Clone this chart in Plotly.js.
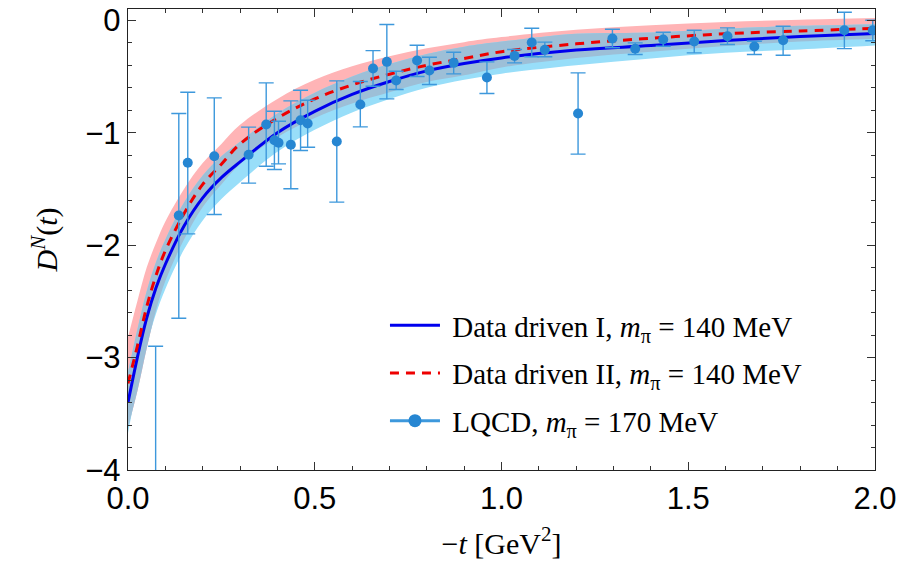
<!DOCTYPE html>
<html>
<head>
<meta charset="utf-8">
<script src="https://cdn.plot.ly/plotly-3.0.1.min.js"></script>
<style>html,body{margin:0;padding:0;background:#fff;}#chart{width:909px;height:572px;}</style>
</head>
<body>
<div id="chart"></div>
<script>
// Curve sample positions (-t in GeV^2)
const tGrid = [0, 0.025, 0.05, 0.075, 0.1, 0.15, 0.2, 0.25, 0.3, 0.4, 0.5, 0.6, 0.7, 0.8, 0.9, 1.0, 1.2, 1.4, 1.6, 1.8, 2.0];

// Data driven I (blue solid) central curve and band
const ddI    = [-3.40, -3.00, -2.65, -2.38, -2.17, -1.83, -1.58, -1.40, -1.26, -1.00, -0.81, -0.66, -0.545, -0.45, -0.385, -0.335, -0.265, -0.225, -0.18, -0.145, -0.118];
const ddIUp  = [-3.13, -2.75, -2.41, -2.15, -1.95, -1.62, -1.38, -1.21, -1.08, -0.83, -0.645, -0.50, -0.39, -0.30, -0.235, -0.19, -0.12, -0.11, -0.075, -0.05, -0.035];
const ddILo  = [-3.67, -3.25, -2.89, -2.61, -2.39, -2.04, -1.78, -1.59, -1.44, -1.17, -0.975, -0.82, -0.70, -0.60, -0.53, -0.475, -0.40, -0.34, -0.29, -0.26, -0.225];

// Data driven II (red dashed) central curve and band
const ddII   = [-3.23, -2.90, -2.55, -2.27, -2.05, -1.72, -1.46, -1.28, -1.10, -0.87, -0.70, -0.575, -0.48, -0.40, -0.34, -0.28, -0.21, -0.16, -0.12, -0.095, -0.073];
const ddIIUp = [-2.82, -2.50, -2.20, -1.98, -1.79, -1.50, -1.27, -1.10, -0.93, -0.70, -0.53, -0.41, -0.32, -0.25, -0.195, -0.15, -0.085, -0.045, -0.015, 0.005, 0.02];
const ddIILo = [-3.62, -3.30, -2.92, -2.58, -2.32, -1.95, -1.66, -1.46, -1.28, -1.04, -0.87, -0.74, -0.64, -0.55, -0.49, -0.42, -0.335, -0.28, -0.23, -0.19, -0.165];

// LQCD points (m_pi = 170 MeV) with error bar ends
const lqcdX    = [0.074, 0.136, 0.160, 0.231, 0.323, 0.370, 0.392, 0.403, 0.436, 0.462, 0.481, 0.559, 0.622, 0.656, 0.693, 0.718, 0.774, 0.807, 0.872, 0.961, 1.035, 1.081, 1.116, 1.205, 1.297, 1.358, 1.433, 1.516, 1.605, 1.677, 1.754, 1.918, 1.994];
const lqcdY    = [-4.50, -1.736, -1.268, -1.209, -1.197, -0.927, -1.067, -1.090, -1.108, -0.889, -0.918, -1.078, -0.749, -0.429, -0.370, -0.536, -0.358, -0.447, -0.379, -0.509, -0.317, -0.198, -0.263, -0.829, -0.163, -0.254, -0.172, -0.189, -0.142, -0.234, -0.178, -0.089, -0.089];
const lqcdHigh = [-2.90, -0.83, -0.64, -0.69, -0.951, -0.557, -0.81, -0.898, -0.717, -0.622, -0.711, -0.539, -0.545, -0.27, -0.038, -0.453, -0.222, -0.329, -0.284, -0.37, -0.26, -0.071, -0.195, -0.468, -0.08, -0.201, -0.107, -0.089, -0.068, -0.187, -0.053, 0.071, 0.0];
const lqcdLow  = [-6.10, -2.65, -1.90, -1.727, -1.449, -1.298, -1.327, -1.277, -1.499, -1.158, -1.129, -1.618, -0.948, -0.587, -0.699, -0.616, -0.50, -0.572, -0.477, -0.652, -0.379, -0.325, -0.325, -1.191, -0.245, -0.305, -0.231, -0.29, -0.216, -0.305, -0.311, -0.252, -0.183];

const xTickVals = [0, 0.5, 1.0, 1.5, 2.0];
const xTickText = ['0.0', '0.5', '1.0', '1.5', '2.0'];
const yTickVals = [-4, -3, -2, -1, 0];
const yTickText = ['\u22124', '\u22123', '\u22122', '\u22121', '0'];

const legI   = '\u00a0Data driven I, <i>m</i><sub>\u03c0</sub> = 140 MeV';
const legII  = '\u00a0Data driven II, <i>m</i><sub>\u03c0</sub> = 140 MeV';
const legL   = '\u00a0LQCD, <i>m</i><sub>\u03c0</sub> = 170 MeV';

const PINK = '#ffb4b6', CYAN = '#98def9', OVER = '#9dbfd7';
const PTCOL = '#2686d2', ERRCOL = '#3d98dc';

const errPlus = lqcdHigh.map((h, i) => h - lqcdY[i]);
const errMinus = lqcdLow.map((l, i) => lqcdY[i] - l);

const traces = [
  // pink band (Data driven II)
  {x: tGrid, y: ddIILo, mode: 'lines', line: {width: 0, shape: 'spline'}, showlegend: false, hoverinfo: 'skip'},
  {x: tGrid, y: ddIIUp, mode: 'lines', line: {width: 0, shape: 'spline'}, fill: 'tonexty', fillcolor: PINK, showlegend: false, hoverinfo: 'skip'},
  // cyan band (Data driven I)
  {x: tGrid, y: ddILo, mode: 'lines', line: {width: 0, shape: 'spline'}, showlegend: false, hoverinfo: 'skip'},
  {x: tGrid, y: ddIUp, mode: 'lines', line: {width: 0, shape: 'spline'}, fill: 'tonexty', fillcolor: CYAN, showlegend: false, hoverinfo: 'skip'},
  // overlap of the two bands
  {x: tGrid, y: ddIILo, mode: 'lines', line: {width: 0, shape: 'spline'}, showlegend: false, hoverinfo: 'skip'},
  {x: tGrid, y: ddIUp, mode: 'lines', line: {width: 0, shape: 'spline'}, fill: 'tonexty', fillcolor: OVER, showlegend: false, hoverinfo: 'skip'},
  // central curves
  {x: tGrid, y: ddI, mode: 'lines', name: legI, legendgroup: 'a', line: {color: '#0000ee', width: 3, shape: 'spline'}},
  {x: tGrid, y: ddII, mode: 'lines', name: legII, legendgroup: 'b', line: {color: '#ee0000', width: 3, dash: '9px,7px', shape: 'spline'}},
  // LQCD points
  {x: lqcdX, y: lqcdY, mode: 'markers', showlegend: false,
   marker: {color: PTCOL, size: 10},
   error_y: {type: 'data', symmetric: false, array: errPlus, arrayminus: errMinus, color: ERRCOL, thickness: 1.4, width: 7.5}},
  // legend entry for LQCD (line + marker)
  {x: [null], y: [null], mode: 'lines+markers', name: legL, legendgroup: 'c',
   line: {color: ERRCOL, width: 3}, marker: {color: PTCOL, size: 13}}
];

const axisCommon = {
  showgrid: false, zeroline: false, showline: true, linecolor: '#222', linewidth: 1.3,
  mirror: 'allticks', ticks: 'inside', ticklen: 8, tickwidth: 1.2, tickcolor: '#333',
  tickfont: {family: 'Liberation Sans, Arial, sans-serif', size: 31, color: '#000'}
};

const layout = {
  width: 909, height: 572,
  margin: {l: 128, r: 34, t: 9, b: 102},
  paper_bgcolor: '#fff', plot_bgcolor: '#fff',
  xaxis: Object.assign({}, axisCommon, {
    range: [0, 2.0], tickvals: xTickVals, ticktext: xTickText,
    minor: {dtick: 0.1, ticks: 'inside', ticklen: 4, tickwidth: 1, tickcolor: '#333'},
    title: {text: '\u2212<i>t</i> [GeV<sup>2</sup>]', font: {family: 'Liberation Serif, serif', size: 30, color: '#000'}, standoff: 18}
  }),
  yaxis: Object.assign({}, axisCommon, {
    range: [-4, 0.1], tickvals: yTickVals, ticktext: yTickText,
    minor: {dtick: 0.2, ticks: 'inside', ticklen: 4, tickwidth: 1, tickcolor: '#333'},
    title: {text: '<i>D</i><sup><i>N</i></sup>(<i>t</i>)', font: {family: 'Liberation Serif, serif', size: 30, color: '#000'}, standoff: 18}
  }),
  legend: {
    x: 0.344, y: 0.05, xanchor: 'left', yanchor: 'bottom',
    bgcolor: 'rgba(255,255,255,0)', borderwidth: 0,
    font: {family: 'Liberation Serif, serif', size: 29, color: '#000'},
    tracegroupgap: 7, itemwidth: 50
  },
  showlegend: true
};

Plotly.newPlot('chart', traces, layout, {displayModeBar: false, staticPlot: true});
</script>
</body>
</html>
